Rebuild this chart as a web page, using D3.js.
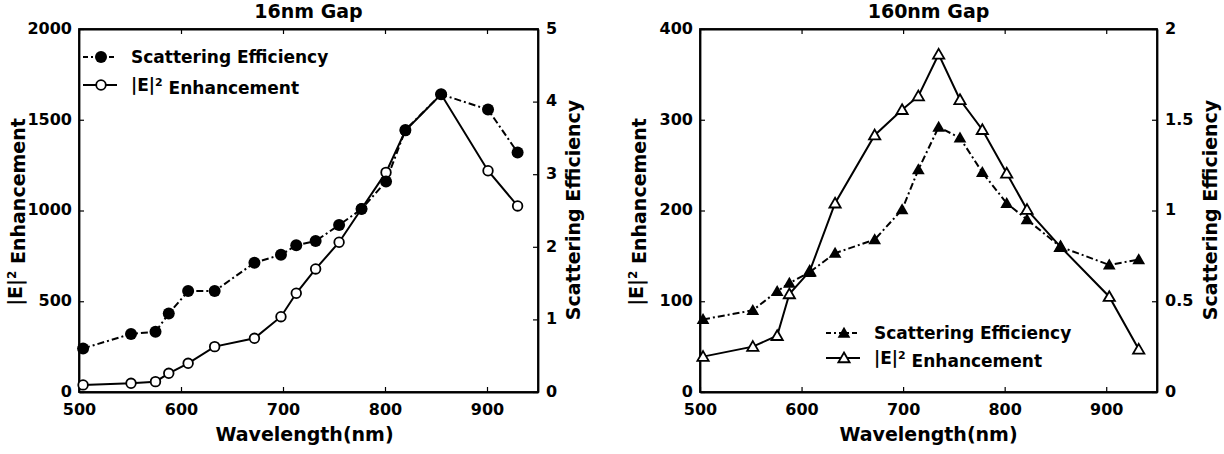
<!DOCTYPE html>
<html>
<head>
<meta charset="utf-8">
<script src="https://cdn.jsdelivr.net/npm/d3@7/dist/d3.min.js"></script>
<style>
  html, body { margin: 0; padding: 0; background: #fff; }
  svg { display: block; }
  text { font-family: "DejaVu Sans", sans-serif; font-weight: bold; fill: #000; }
</style>
</head>
<body>
<svg id="chart" width="1224" height="454"></svg>
<script>
// ---------- Data ----------
const xTicks = [500, 600, 700, 800, 900];

// 16nm gap panel
const wavelengths16 = [504, 551, 575, 588, 607, 633, 672, 698, 713, 732, 755, 777, 801, 820, 855, 901, 930];
const scattering16  = [0.60, 0.80, 0.83, 1.08, 1.39, 1.39, 1.78, 1.89, 2.02, 2.08, 2.30, 2.52, 2.90, 3.61, 4.10, 3.89, 3.30];
const enhancement16 = [39, 48, 57, 103, 158, 250, 296, 415, 544, 678, 825, 1010, 1210, 1440, 1640, 1219, 1025];
const leftTicks16   = [0, 500, 1000, 1500, 2000];
const rightTicks16  = [0, 1, 2, 3, 4, 5];

// 160nm gap panel
const wavelengths160 = [503, 552, 576, 588, 608, 633, 672, 699, 715, 735, 756, 778, 802, 822, 855, 903, 932];
const scattering160  = [0.40, 0.45, 0.555, 0.60, 0.66, 0.765, 0.84, 1.005, 1.225, 1.46, 1.40, 1.21, 1.04, 0.95, 0.80, 0.70, 0.73];
const enhancement160 = [39, 50, 62, 108, 133, 208, 283, 311, 326, 372, 322, 289, 241, 201, 160, 105, 47];
const leftTicks160   = [0, 100, 200, 300, 400];
const rightTicks160  = [0, 0.5, 1, 1.5, 2];

const titles = ["16nm Gap", "160nm Gap"];
const legendLabels = ["Scattering Efficiency", "Enhancement"];

// ---------- Drawing ----------
const svg = d3.select("#chart");

function drawPanel(cfg) {
  const g = svg.append("g");
  const x = d3.scaleLinear().domain([500, 950]).range([cfg.left, cfg.right]);
  const yL = d3.scaleLinear().domain([0, cfg.leftMax]).range([cfg.bottom, cfg.top]);
  const yR = d3.scaleLinear().domain([0, cfg.rightMax]).range([cfg.bottom, cfg.top]);

  // frame
  g.append("rect")
    .attr("x", cfg.left).attr("y", cfg.top)
    .attr("width", cfg.right - cfg.left).attr("height", cfg.bottom - cfg.top)
    .attr("fill", "none").attr("stroke", "#000").attr("stroke-width", 1.8);

  // axes
  const fmtR = d => (d === 0.5 || d === 1.5) ? d3.format(".1f")(d) : d3.format("d")(d);
  const axB = g.append("g").attr("transform", `translate(0,${cfg.bottom})`)
    .call(d3.axisBottom(x).tickValues(xTicks).tickSizeInner(-5).tickSizeOuter(0).tickPadding(12).tickFormat(d3.format("d")));
  const axT = g.append("g").attr("transform", `translate(0,${cfg.top})`)
    .call(d3.axisTop(x).tickValues(xTicks).tickSizeInner(-5).tickSizeOuter(0).tickFormat(""));
  const axL = g.append("g").attr("transform", `translate(${cfg.left},0)`)
    .call(d3.axisLeft(yL).tickValues(cfg.leftTicks).tickSizeInner(-5).tickSizeOuter(0).tickPadding(7).tickFormat(d3.format("d")));
  const axR = g.append("g").attr("transform", `translate(${cfg.right},0)`)
    .call(d3.axisRight(yR).tickValues(cfg.rightTicks).tickSizeInner(-5).tickSizeOuter(0).tickPadding(8).tickFormat(fmtR));
  [axB, axT, axL, axR].forEach(a => {
    a.select(".domain").attr("stroke", "#000").attr("stroke-width", 1.8);
    a.selectAll(".tick line").attr("stroke", "#000").attr("stroke-width", 1.2);
    a.selectAll("text").style("font-family", '"DejaVu Sans", sans-serif')
      .style("font-weight", "bold").style("font-size", "16px").attr("fill", "#000");
  });
  [axL, axR].forEach(a => a.selectAll(".tick text").attr("dy", "0.27em"));

  // title
  g.append("text").attr("x", (cfg.left + cfg.right) / 2).attr("y", 18)
    .attr("text-anchor", "middle").style("font-size", "19px").text(cfg.title);

  // x axis title
  g.append("text").attr("x", (cfg.left + cfg.right) / 2 + cfg.xTitleShift).attr("y", 441)
    .attr("text-anchor", "middle").style("font-size", "19px").text("Wavelength(nm)");

  // left axis title |E|^2 Enhancement
  const lt = g.append("text")
    .attr("transform", `translate(${cfg.left - 64},${212}) rotate(-90)`)
    .attr("text-anchor", "middle").attr("dy", "0.35em").style("font-size", "19px");
  lt.append("tspan").text("|E|");
  lt.append("tspan").attr("dy", "-0.5em").style("font-size", "12px").text("2");
  lt.append("tspan").attr("dy", "0.5em").text(" " + legendLabels[1]);

  // right axis title
  g.append("text")
    .attr("transform", `translate(${cfg.right + cfg.rTitleOff},${210}) rotate(-90)`)
    .attr("text-anchor", "middle").attr("dy", "0.35em").style("font-size", "19px")
    .text(legendLabels[0]);

  // data
  const seData = cfg.wl.map((w, i) => [w, cfg.se[i]]);
  const enData = cfg.wl.map((w, i) => [w, cfg.en[i]]);
  const lineEn = d3.line().x(d => x(d[0])).y(d => yL(d[1]));
  const lineSe = d3.line().x(d => x(d[0])).y(d => yR(d[1]));

  g.append("path").datum(enData).attr("d", lineEn)
    .attr("fill", "none").attr("stroke", "#000").attr("stroke-width", 2);
  g.append("path").datum(seData).attr("d", lineSe)
    .attr("fill", "none").attr("stroke", "#000").attr("stroke-width", 2)
    .attr("stroke-dasharray", "7,3,2,3");

  const triFill = d3.symbol().type(d3.symbolTriangle).size(70);
  const triOpen = d3.symbol().type(d3.symbolTriangle).size(55);

  function marker(sel, kind, px, py) {
    if (kind === "filledCircle") {
      sel.append("circle").attr("cx", px).attr("cy", py).attr("r", 6).attr("fill", "#000");
    } else if (kind === "openCircle") {
      sel.append("circle").attr("cx", px).attr("cy", py).attr("r", 4.8)
        .attr("fill", "#fff").attr("stroke", "#000").attr("stroke-width", 1.8);
    } else if (kind === "filledTri") {
      sel.append("path").attr("d", triFill()).attr("transform", `translate(${px},${py + 1})`).attr("fill", "#000");
    } else {
      sel.append("path").attr("d", triOpen()).attr("transform", `translate(${px},${py + 1})`)
        .attr("fill", "#fff").attr("stroke", "#000").attr("stroke-width", 1.8);
    }
  }

  const mk = g.append("g");
  enData.forEach(d => marker(mk, cfg.enMarker, x(d[0]), yL(d[1])));
  seData.forEach(d => marker(mk, cfg.seMarker, x(d[0]), yR(d[1])));

  // legend
  const lg = g.append("g");
  const rows = [
    { m: cfg.seMarker, dash: "5,3,2,3", label: "se", y: cfg.legY },
    { m: cfg.enMarker, dash: null, label: "en", y: cfg.legY + cfg.legGap }
  ];
  rows.forEach(r => {
    lg.append("line").attr("x1", cfg.legX).attr("x2", cfg.legX + 34)
      .attr("y1", r.y).attr("y2", r.y).attr("stroke", "#000").attr("stroke-width", 2)
      .attr("stroke-dasharray", r.dash);
    marker(lg, r.m, cfg.legX + 18, r.y);
    const t = lg.append("text").attr("x", cfg.legX + 48).attr("y", r.y + 6).style("font-size", "17px");
    if (r.label === "se") {
      t.text(legendLabels[0]);
    } else {
      t.append("tspan").text("|E|");
      t.append("tspan").attr("dy", "-0.5em").style("font-size", "11px").text("2");
      t.append("tspan").attr("dy", "0.5em").text(" " + legendLabels[1]);
    }
  });
}

drawPanel({
  left: 79, right: 538, top: 29, bottom: 392,
  leftMax: 2000, rightMax: 5,
  leftTicks: leftTicks16, rightTicks: rightTicks16,
  title: titles[0],
  wl: wavelengths16, se: scattering16, en: enhancement16,
  seMarker: "filledCircle", enMarker: "openCircle",
  legX: 83, legY: 57, legGap: 28,
  xTitleShift: -4, rTitleOff: 35
});

drawPanel({
  left: 700, right: 1157, top: 29, bottom: 392,
  leftMax: 400, rightMax: 2,
  leftTicks: leftTicks160, rightTicks: rightTicks160,
  title: titles[1],
  wl: wavelengths160, se: scattering160, en: enhancement160,
  seMarker: "filledTri", enMarker: "openTri",
  legX: 826, legY: 333, legGap: 25,
  xTitleShift: 0, rTitleOff: 53
});
</script>
</body>
</html>
